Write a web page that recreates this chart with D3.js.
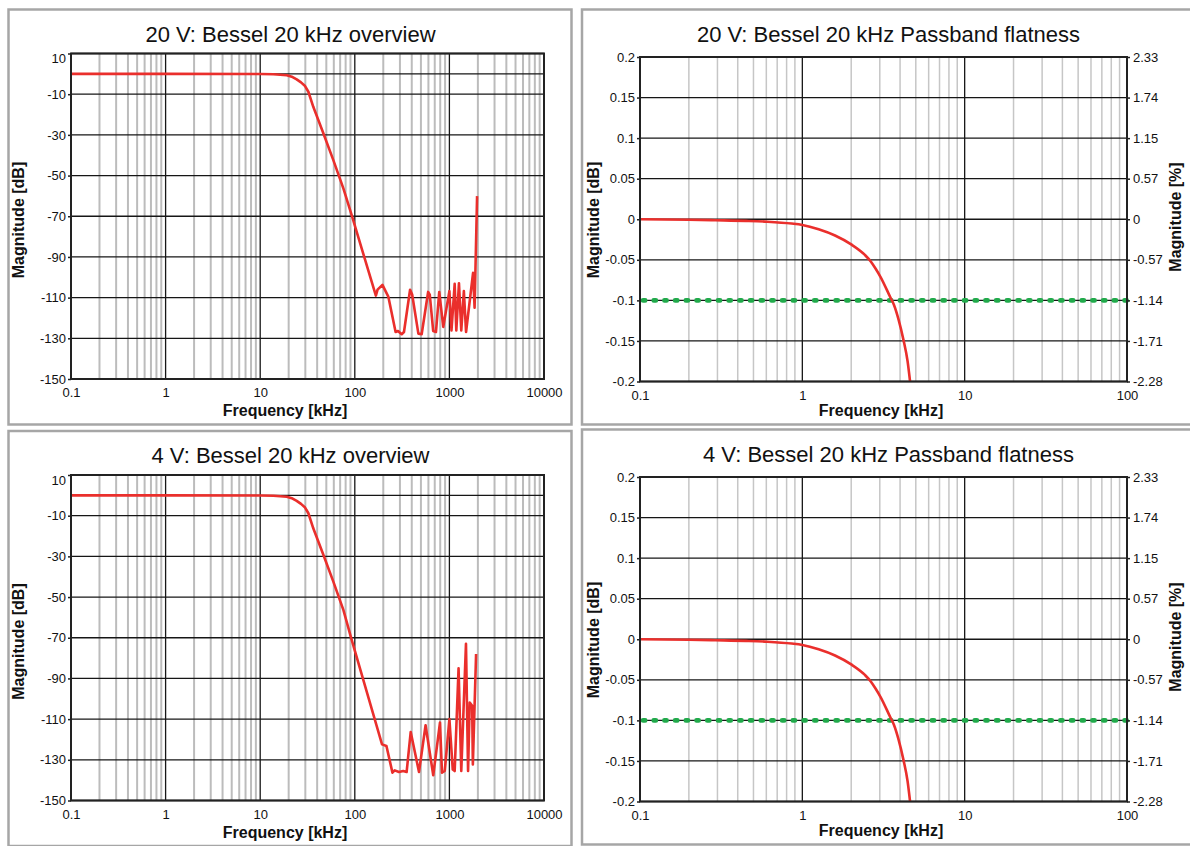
<!DOCTYPE html>
<html>
<head>
<meta charset="utf-8">
<script src="https://cdn.jsdelivr.net/npm/d3@7"></script>
<style>
  body { margin: 0; background: #fff; }
  svg { display: block; }
  text { font-family: "Liberation Sans", Arial, Helvetica, sans-serif; fill: #111; }
</style>
</head>
<body>
<svg id="chart" width="1190" height="846"></svg>
<script>
// ---- Axis ticks ----
const overviewTicksX = [0.1, 1, 10, 100, 1000, 10000];
const overviewTicksY = [10, -10, -30, -50, -70, -90, -110, -130, -150];
const flatTicksX = [0.1, 1, 10, 100];
const flatTicksY = [0.2, 0.15, 0.1, 0.05, 0, -0.05, -0.1, -0.15, -0.2];
const pctTickLabels = ["2.33", "1.74", "1.15", "0.57", "0", "-0.57", "-1.14", "-1.71", "-2.28"];
const flatLimitDb = -0.1;

// ---- 20 V overview: frequency [kHz] / magnitude [dB] ----
const freqOverview20 = [0.1, 1, 10, 13.8, 19.1, 22, 24.3, 27, 29.8, 32.3, 36.4, 46.5, 59.3, 75.7, 92.7,
  167, 174, 196, 226, 270, 286, 313, 331, 384, 404, 470, 509, 596, 620, 674, 721, 781, 861,
  1000, 1052, 1137, 1183, 1262, 1335, 1422, 1500, 1779, 1846, 1962];
const magOverview20 = [0, 0, -0.1, -0.2, -0.7, -1.6, -2.7, -4.2, -6.0, -8.8, -16.2, -29.2, -42.4, -56.3, -69.5,
  -109.0, -106.1, -103.7, -109.5, -126.9, -126.4, -128.0, -126.9, -106.1, -108.5, -127.7, -128.0,
  -107.2, -108.5, -126.4, -126.9, -107.2, -124.4, -106.8, -126.1, -103.2, -126.1, -102.9, -126.1,
  -106.8, -126.9, -97.8, -115.0, -60.1];

// ---- 4 V overview ----
const freqOverview4 = [0.1, 1, 10, 13.8, 19.1, 22, 24.3, 27, 29.8, 32.3, 36.4, 46.5, 59.3, 75.7, 92.7,
  194, 216, 250, 264, 293, 325, 353, 390, 477, 560, 675, 795, 835, 893, 1000, 1085, 1137,
  1250, 1335, 1497, 1575, 1640, 1740, 1770, 1915];
const magOverview4 = [0, 0, -0.1, -0.2, -0.7, -1.6, -2.7, -4.2, -6.0, -8.8, -16.2, -29.2, -42.4, -56.3, -71.0,
  -122.4, -123.2, -136.3, -135.2, -136.0, -135.5, -136.0, -116.3, -136.0, -113.0, -137.6, -111.7,
  -136.3, -135.5, -110.0, -134.8, -135.5, -85.0, -135.5, -73.0, -135.5, -101.8, -103.4, -132.3, -78.0];

// ---- Passband flatness (same frequency grid for both ranges) ----
const freqFlat = [0.1, 0.2, 0.29, 0.45, 0.61, 0.86, 1.0, 1.26, 1.59, 2.0, 2.43, 2.64, 2.83, 3.04,
  3.49, 3.66, 3.92, 4.2, 4.45, 4.61];
const magFlat20 = [0, -0.0006, -0.0012, -0.002, -0.003, -0.0053, -0.007, -0.0123, -0.02, -0.031,
  -0.044, -0.052, -0.061, -0.0715, -0.0965, -0.105, -0.124, -0.149, -0.175, -0.2];
const magFlat4 = [0, -0.0006, -0.0012, -0.002, -0.003, -0.0053, -0.007, -0.0123, -0.02, -0.031,
  -0.044, -0.052, -0.061, -0.0715, -0.0965, -0.105, -0.124, -0.149, -0.175, -0.2];

const zip = (fs, vs) => fs.map((f, i) => ({ f, v: vs[i] }));

const svg = d3.select("#chart");
svg.append("rect").attr("width", 1190).attr("height", 846).attr("fill", "#fff");

let clipId = 0;

function minorTicks(domain) {
  const out = [];
  const e0 = Math.round(Math.log10(domain[0]));
  const e1 = Math.round(Math.log10(domain[1]));
  for (let e = e0; e < e1; e++) {
    for (let k = 2; k <= 9; k++) out.push(+(k * Math.pow(10, e)).toPrecision(6));
  }
  return out;
}

function drawPanel(p) {
  const g = svg.append("g");

  // panel frame
  g.append("rect")
    .attr("x", p.frame[0]).attr("y", p.frame[1])
    .attr("width", p.frame[2]).attr("height", p.frame[3])
    .attr("fill", "none").attr("stroke", "#a6a6a6").attr("stroke-width", 2.5);

  const x = d3.scaleLog().domain(p.xDomain).range([p.x0, p.x1]);
  const y = d3.scaleLinear().domain(p.yDomain).range([p.y1, p.y0]);

  // minor vertical grid
  g.append("g").selectAll("line").data(minorTicks(p.xDomain)).join("line")
    .attr("x1", d => x(d)).attr("x2", d => x(d))
    .attr("y1", p.y0).attr("y2", p.y1)
    .attr("stroke", p.minorColor).attr("stroke-width", p.minorWidth);

  // major vertical grid
  g.append("g").selectAll("line").data(p.xTicks).join("line")
    .attr("x1", d => x(d)).attr("x2", d => x(d))
    .attr("y1", p.y0).attr("y2", p.y1)
    .attr("stroke", "#161616").attr("stroke-width", 1.3);

  // horizontal grid
  g.append("g").selectAll("line").data(p.yTicks.concat(p.extraGrid || [])).join("line")
    .attr("x1", p.x0).attr("x2", p.x1)
    .attr("y1", d => y(d)).attr("y2", d => y(d))
    .attr("stroke", "#161616").attr("stroke-width", 1.3);

  const cid = "clip" + (clipId++);
  svg.append("clipPath").attr("id", cid).append("rect")
    .attr("x", p.x0).attr("y", p.y0 - 1)
    .attr("width", p.x1 - p.x0).attr("height", p.y1 - p.y0 + 2);

  // limit line (dotted)
  if (p.limit !== undefined) {
    g.append("line")
      .attr("x1", p.x0 + 3).attr("x2", p.x1)
      .attr("y1", y(p.limit)).attr("y2", y(p.limit))
      .attr("stroke", "#21aa4b").attr("stroke-width", 4.6)
      .attr("stroke-linecap", "round")
      .attr("stroke-dasharray", "2.2 8.5");
  }

  // measured response
  const line = d3.line().x(d => x(d.f)).y(d => y(d.v)).curve(p.curve || d3.curveLinear);
  g.append("path")
    .datum(p.data)
    .attr("clip-path", `url(#${cid})`)
    .attr("d", line)
    .attr("fill", "none")
    .attr("stroke", "#ea2f2c")
    .attr("stroke-width", 2.6)
    .attr("stroke-linejoin", "round");

  // plot border
  g.append("rect")
    .attr("x", p.x0).attr("y", p.y0)
    .attr("width", p.x1 - p.x0).attr("height", p.y1 - p.y0)
    .attr("fill", "none").attr("stroke", "#222").attr("stroke-width", 2);

  // axes
  const ax = g.append("g").attr("transform", `translate(0,${p.y1})`)
    .call(d3.axisBottom(x).tickValues(p.xTicks).tickFormat(d => String(d)).tickSize(0).tickPadding(9));
  const ay = g.append("g").attr("transform", `translate(${p.x0},0)`)
    .call(d3.axisLeft(y).tickValues(p.yTicks).tickFormat(d => String(d)).tickSize(3).tickPadding(2));
  [ax, ay].forEach(a => {
    a.select(".domain").remove();
    a.selectAll("text").attr("font-size", 13).attr("font-family", null).attr("fill", "#111");
    a.selectAll("line").attr("stroke", "#222").attr("stroke-width", 1.5);
  });
  if (p.topLabelShift) {
    ay.selectAll(".tick text").filter(d => d === p.yDomain[1]).attr("dy", `${0.32 + p.topLabelShift}em`);
  }

  if (p.rightLabels) {
    const ar = g.append("g").attr("transform", `translate(${p.x1},0)`)
      .call(d3.axisRight(y).tickValues(p.yTicks).tickFormat((d, i) => p.rightLabels[i]).tickSize(3).tickPadding(3));
    ar.select(".domain").remove();
    ar.selectAll("text").attr("font-size", 13).attr("font-family", null).attr("fill", "#111");
    ar.selectAll("line").attr("stroke", "#222").attr("stroke-width", 1.5);
  }

  // titles
  g.append("text")
    .attr("x", p.titleX).attr("y", p.titleY)
    .attr("text-anchor", "middle").attr("font-size", 22)
    .text(p.title);

  g.append("text")
    .attr("x", p.xLabelX).attr("y", p.xLabelY)
    .attr("text-anchor", "middle").attr("font-size", 16).attr("font-weight", "bold")
    .text("Frequency [kHz]");

  g.append("text")
    .attr("transform", `translate(${p.yLabelX},${p.yLabelY}) rotate(-90)`)
    .attr("text-anchor", "middle").attr("font-size", 16).attr("font-weight", "bold")
    .text("Magnitude [dB]");

  if (p.rightTitle) {
    g.append("text")
      .attr("transform", `translate(${p.rightTitleX},${p.yLabelY - 3}) rotate(-90)`)
      .attr("text-anchor", "middle").attr("font-size", 16).attr("font-weight", "bold")
      .text(p.rightTitle);
  }
}

function overview(dy, title, data) {
  return {
    frame: [8.5, 9.5 + dy, 563, 415],
    x0: 71, x1: 544, y0: 53.5 + dy, y1: 379 + dy,
    xDomain: [0.1, 10000], yDomain: [-150, 10],
    xTicks: overviewTicksX, yTicks: overviewTicksY, extraGrid: [0],
    minorColor: "#bcbcbc", minorWidth: 2,
    topLabelShift: 0.38,
    title, titleX: 290.5, titleY: 41.7 + dy,
    xLabelX: 285, xLabelY: 416 + dy,
    yLabelX: 23.5, yLabelY: 220 + dy,
    data
  };
}

function flatness(dy, title, data) {
  return {
    frame: [582, 9.5 + dy, 620, 415],
    x0: 640, x1: 1127, y0: 57 + dy, y1: 381.5 + dy,
    xDomain: [0.1, 100], yDomain: [-0.2, 0.2],
    xTicks: flatTicksX, yTicks: flatTicksY,
    minorColor: "#c6c6c6", minorWidth: 1.5,
    limit: flatLimitDb,
    curve: d3.curveMonotoneX,
    rightLabels: pctTickLabels, rightTitle: "Magnitude [%]", rightTitleX: 1181,
    title, titleX: 888.5, titleY: 41.7 + dy,
    xLabelX: 881, xLabelY: 416 + dy,
    yLabelX: 599, yLabelY: 220 + dy,
    data
  };
}

drawPanel(overview(0, "20 V: Bessel 20 kHz overview", zip(freqOverview20, magOverview20)));
drawPanel(flatness(0, "20 V: Bessel 20 kHz Passband flatness", zip(freqFlat, magFlat20)));
drawPanel(overview(421.5, "4 V: Bessel 20 kHz overview", zip(freqOverview4, magOverview4)));
drawPanel(flatness(420, "4 V: Bessel 20 kHz Passband flatness", zip(freqFlat, magFlat4)));
</script>
</body>
</html>
